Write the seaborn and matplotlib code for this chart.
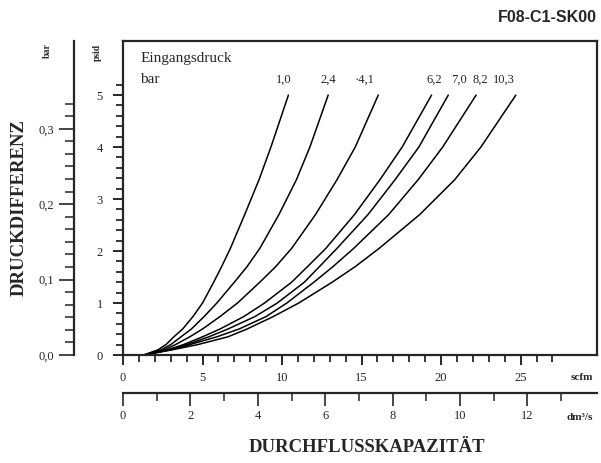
import numpy as np
import pandas as pd
import seaborn as sns
from matplotlib import pyplot as plt
from matplotlib.ticker import FixedLocator

# Eingangsdruck (bar) -> Kennlinie Druckdifferenz (psid) ueber Durchfluss (scfm)
pressures = ['1,0', '2,4', '4,1', '6,2', '7,0', '8,2', '10,3']
pressure_labels = ['1,0', '2,4', '·4,1', '6,2', '7,0', '8,2', '10,3']

psid_levels = [0, 0.1, 0.2, 0.35, 0.5, 0.74, 1.0, 1.4, 1.7, 2.05, 2.7, 3.37, 4.0, 5.0]

scfm_10 = [1.3, 2.2, 2.7, 3.2, 3.75, 4.4, 5.0, 5.7, 6.2, 6.75, 7.65, 8.55, 9.3, 10.4]
scfm_24 = [1.3, 2.4, 3.0, 3.65, 4.3, 5.1, 5.9, 7.0, 7.8, 8.6, 9.8, 10.9, 11.75, 12.9]
scfm_41 = [1.3, 2.6, 3.3, 4.2, 5.0, 6.1, 7.2, 8.6, 9.6, 10.6, 12.1, 13.45, 14.6, 16.05]
scfm_62 = [1.3, 2.8, 3.8, 5.0, 6.1, 7.6, 8.9, 10.6, 11.6, 12.75, 14.55, 16.15, 17.55, 19.4]
scfm_70 = [1.3, 2.9, 4.0, 5.4, 6.6, 8.3, 9.7, 11.4, 12.35, 13.45, 15.4, 17.1, 18.6, 20.45]
scfm_82 = [1.3, 3.0, 4.2, 5.9, 7.3, 9.0, 10.3, 12.0, 13.2, 14.5, 16.7, 18.55, 20.1, 22.2]
scfm_103 = [1.3, 3.1, 4.7, 6.6, 7.8, 9.45, 11.05, 13.15, 14.6, 16.1, 18.65, 20.85, 22.5, 24.7]

# where the curve labels sit (scfm)
label_x = [10.1, 12.9, 15.2, 19.6, 21.1, 22.45, 23.95]

psi_ticks = [0, 1, 2, 3, 4, 5]
bar_ticks = [0.0, 0.1, 0.2, 0.3]
bar_ticklabels = ['0,0', '0,1', '0,2', '0,3']
scfm_ticks = [0, 5, 10, 15, 20, 25]
dm3_ticks = [0, 2, 4, 6, 8, 10, 12]

PSI_PER_BAR = 14.5038
DM3S_PER_SCFM = 0.471947

all_scfm = [scfm_10, scfm_24, scfm_41, scfm_62, scfm_70, scfm_82, scfm_103]

frames = []
for p, xs in zip(pressures, all_scfm):
    frames.append(pd.DataFrame({'scfm': xs, 'psid': psid_levels, 'druck': p}))
df = pd.concat(frames, ignore_index=True)

sns.set_style('ticks')
plt.rcParams['font.family'] = ['Liberation Serif', 'DejaVu Serif']

fig = plt.figure(figsize=(6.01, 4.63), dpi=100)
ax = fig.add_axes([123/601, 108/463, 474/601, 314/463])

sns.lineplot(data=df, x='scfm', y='psid', units='druck', estimator=None,
             color='black', lw=1.1, sort=False, legend=False, ax=ax)

ax.set_xlim(0, 29.8)
ax.set_ylim(0, 6.04)
ax.set_xlabel('')
ax.set_ylabel('')
for s in ax.spines.values():
    s.set_linewidth(1.6)
    s.set_visible(True)

# psid axis
ax.yaxis.set_major_locator(FixedLocator(psi_ticks))
ax.yaxis.set_minor_locator(FixedLocator(np.arange(0, 5.21, 0.2)))
ax.set_yticklabels([str(t) for t in psi_ticks])
# scfm axis
ax.xaxis.set_major_locator(FixedLocator(scfm_ticks))
ax.xaxis.set_minor_locator(FixedLocator(np.arange(0, 28)))
ax.set_xticklabels([str(t) for t in scfm_ticks])
ax.tick_params(which='major', direction='out', length=7.5, width=1.2,
               labelsize=9, color='black')
ax.tick_params(which='minor', direction='out', length=5, width=1.1, color='black')
ax.tick_params(axis='y', which='major', pad=7)
ax.tick_params(axis='x', which='major', pad=5)

# bar axis on the left
sec_y = ax.secondary_yaxis(-49/474, functions=(lambda p: p / PSI_PER_BAR,
                                                 lambda b: b * PSI_PER_BAR))
sec_y.yaxis.set_major_locator(FixedLocator(bar_ticks))
sec_y.yaxis.set_minor_locator(FixedLocator(np.arange(0, 21) / 60))
sec_y.set_yticklabels(bar_ticklabels)
sec_y.tick_params(which='major', direction='out', length=11, width=1.2,
                  labelsize=9, pad=3)
sec_y.tick_params(which='minor', direction='out', length=6.5, width=1.1)
sec_y.spines['left'].set_linewidth(1.6)

# dm3/s axis below
sec_x = ax.secondary_xaxis(-38/314, functions=(lambda s: s * DM3S_PER_SCFM,
                                                 lambda d: d / DM3S_PER_SCFM))
sec_x.xaxis.set_major_locator(FixedLocator(dm3_ticks))
sec_x.xaxis.set_minor_locator(FixedLocator(np.arange(1, 14, 2)))
sec_x.set_xticklabels([str(t) for t in dm3_ticks])
sec_x.tick_params(which='major', direction='out', length=9, width=1.2,
                  labelsize=9, pad=3)
sec_x.tick_params(which='minor', direction='out', length=6, width=1.1)
sec_x.spines['bottom'].set_linewidth(1.6)

# curve labels
for lab, lx in zip(pressure_labels, label_x):
    ax.text(lx, 5.29, lab, ha='center', va='center', fontsize=9)
ax.text(1.1, 5.7, 'Eingangsdruck', ha='left', va='center', fontsize=11)
ax.text(1.1, 5.3, 'bar', ha='left', va='center', fontsize=11)

# unit and axis titles
fig.text(47/601, 1 - 51/463, 'bar', rotation=90, ha='center', va='center',
         fontsize=7, fontweight='bold')
fig.text(97/601, 1 - 52/463, 'psid', rotation=90, ha='center', va='center',
         fontsize=7, fontweight='bold')
fig.text(582/601, 1 - 378/463, 'scfm', ha='center', va='center',
         fontsize=8, fontweight='bold')
fig.text(580/601, 1 - 417/463, 'dm³/s', ha='center', va='center',
         fontsize=8, fontweight='bold')
fig.text(19/601, 1 - 208/463, 'DRUCKDIFFERENZ', rotation=90, ha='center',
         va='center', fontsize=13.5, fontweight='bold')
fig.text(367/601, 1 - 447/463, 'DURCHFLUSSKAPAZITÄT', ha='center',
         va='center', fontsize=13.5, fontweight='bold')
fig.text(597/601, 1 - 18/463, 'F08-C1-SK00', ha='right', va='center',
         fontsize=11.5, fontweight='bold', family=['Liberation Sans', 'DejaVu Sans'])

plt.savefig('out.png', dpi=100)
